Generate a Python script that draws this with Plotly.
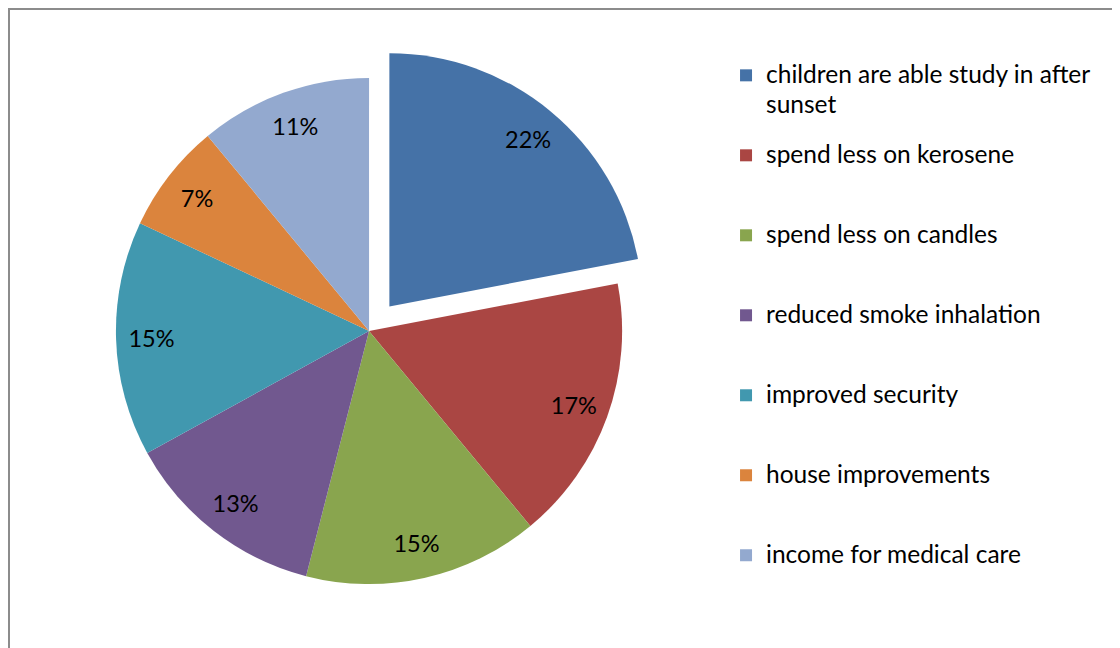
import plotly.graph_objects as go

categories = [
    "children are able study in after<br>sunset",
    "spend less on kerosene",
    "spend less on candles",
    "reduced smoke inhalation",
    "improved security",
    "house improvements",
    "income for medical care",
]
shares = [22, 17, 15, 13, 15, 7, 11]
colors = ["#4572A7", "#AA4643", "#89A54E", "#71588F", "#4198AF", "#DB843D", "#93A9CF"]
pulls = [0.126, 0, 0, 0, 0, 0, 0]

FONT = "Lato"

# legend labels: every entry padded to 3 lines so entries sit 80px apart;
# wrapped lines are nudged down a little (via <sub>) to open up the line gap
span = "<span style='font-size:24.5px'>%s</span>"
legend_labels = []
for c in categories:
    lines = c.split("<br>")
    parts = [span % lines[0]] + ["<sub>" + span % l + "</sub>" for l in lines[1:]]
    parts += [" "] * (3 - len(lines))
    legend_labels.append("<br>".join(parts))

dom_x = [0.0679, 0.5768]
dom_y = [0.0617, 0.9414]

fig = go.Figure()
# coloured slices + legend
fig.add_trace(go.Pie(
    labels=legend_labels,
    values=shares,
    sort=False,
    direction="clockwise",
    rotation=0,
    pull=pulls,
    marker=dict(colors=colors, line=dict(width=0)),
    textinfo="none",
    domain=dict(x=dom_x, y=dom_y),
    hoverinfo="skip",
))
# transparent ring, only there to place the percentage labels near the rim
fig.add_trace(go.Pie(
    labels=legend_labels,
    values=shares,
    sort=False,
    direction="clockwise",
    rotation=0,
    pull=pulls,
    hole=0.72,
    marker=dict(colors=["rgba(0,0,0,0)"] * len(shares), line=dict(width=0)),
    textinfo="percent",
    textposition="inside",
    insidetextorientation="horizontal",
    textfont=dict(family=FONT, size=23.5, color="#000000"),
    domain=dict(x=dom_x, y=dom_y),
    showlegend=False,
    hoverinfo="skip",
))

# chart border
fig.add_shape(type="rect", xref="paper", yref="paper",
              x0=1 / 1120, x1=1.01, y0=-0.01, y1=1 - 1 / 648,
              line=dict(color="#8C8C8C", width=2), fillcolor="rgba(0,0,0,0)")

fig.update_layout(
    width=1120,
    height=648,
    margin=dict(l=0, r=0, t=0, b=0),
    paper_bgcolor="white",
    plot_bgcolor="white",
    font=dict(family=FONT, color="#000000"),
    legend=dict(
        x=0.6411, y=1 - 48 / 648,
        xanchor="left", yanchor="top",
        valign="top",
        font=dict(family=FONT, size=19.74, color="#000000"),
        bgcolor="rgba(0,0,0,0)",
        borderwidth=0,
    ),
)

fig.write_html("out.html")
